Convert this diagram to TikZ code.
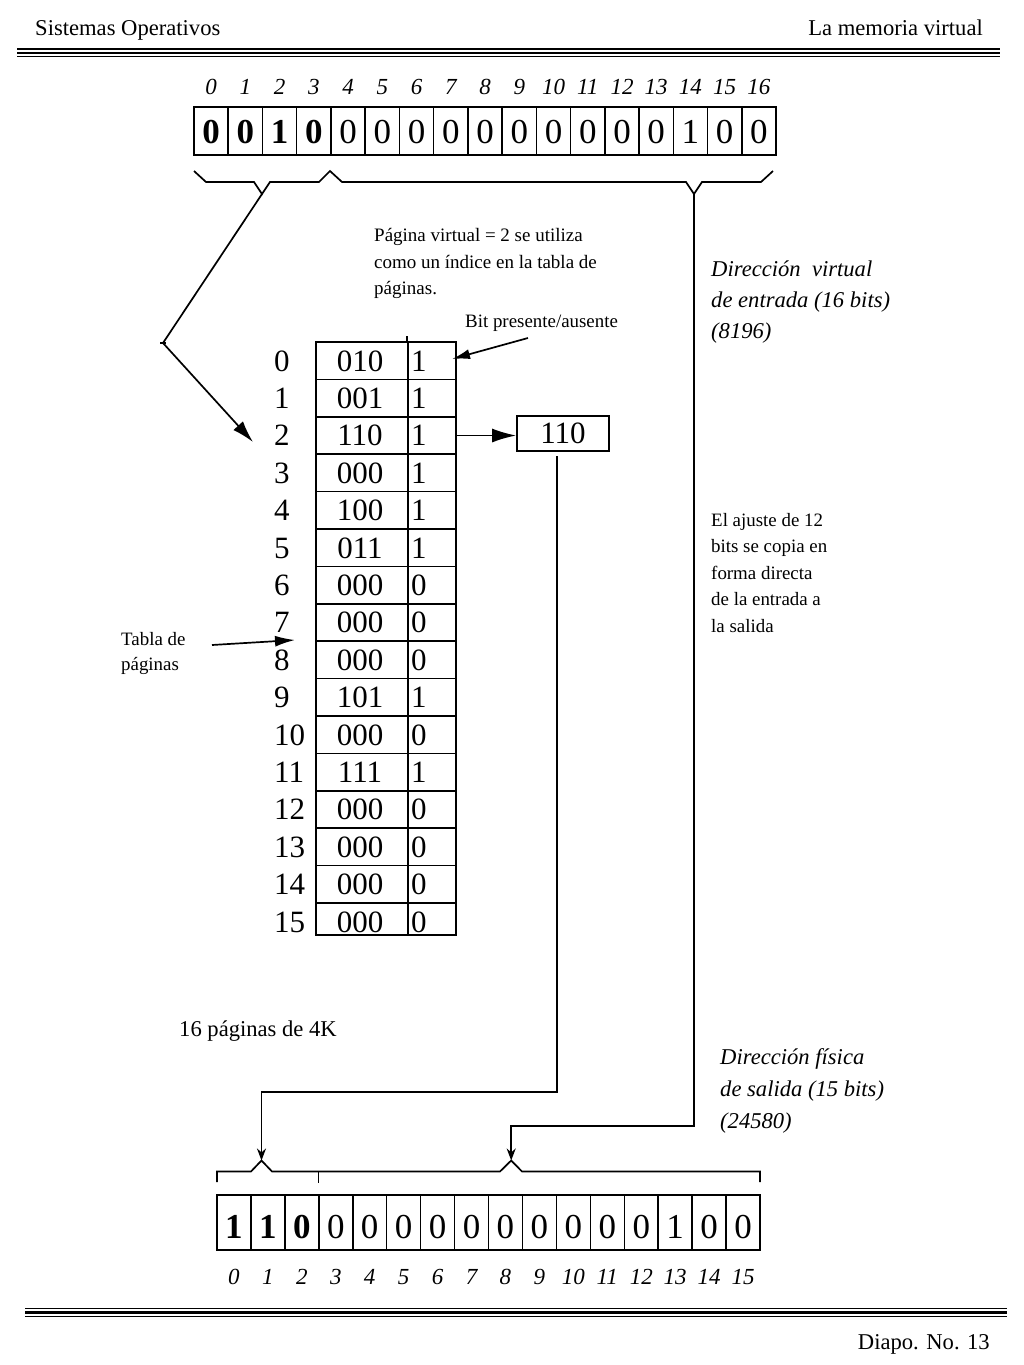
\documentclass[tikz,border=0pt]{standalone}
\usepackage{fontspec}
\setmainfont{Liberation Serif}
\usetikzlibrary{arrows.meta}
\newcommand\myfs[1]{\fontsize{#1}{#1}\selectfont}
\begin{document}
\begin{tikzpicture}[x=1pt,y=-1pt]
\tikzset{
  lw/.style={line width=1.7pt},
  tcell/.style={draw, line width=1.5pt, minimum width=34.24pt, minimum height=48pt, inner sep=0pt},
  bcell/.style={draw, line width=1.5pt, minimum width=33.94pt, minimum height=55pt, inner sep=0pt},
  fcell/.style={draw, line width=1.7pt, minimum width=92pt, inner sep=0pt},
  pcell/.style={draw, line width=1.7pt, minimum width=48pt, inner sep=0pt},
  dig/.style={anchor=base, inner sep=0pt, font=\myfs{35}},
  idx/.style={anchor=base, inner sep=0pt, font=\myfs{23}\itshape},
  tab/.style={inner sep=0pt, font=\myfs{31}},
  note/.style={anchor=base west, inner sep=0pt, font=\myfs{18.9}},
  inote/.style={anchor=base west, inner sep=0pt, font=\myfs{22.6}\itshape},
  bigarrow/.style={lw, -{Latex[length=22pt,width=13pt]}},
  smallarrow/.style={lw, -{Stealth[length=12pt,width=9pt]}},
}
\fill[white] (0,0) rectangle (1024,1365);
\useasboundingbox (0,0) rectangle (1024,1365);

% header
\node[anchor=base west, inner sep=0pt, font=\myfs{22.6}] (hl) at (35,35) {Sistemas Operativos};
\node[anchor=base east, inner sep=0pt, font=\myfs{22.6}] (hr) at (983,35) {La memoria virtual};
\draw[line width=1.3pt] (17,49) -- (1000,49);
\draw[line width=2.8pt] (17,53) -- (1000,53);
\draw[line width=1.3pt] (17,56.8) -- (1000,56.8);

% footer
\draw[line width=1.3pt] (25,1308.5) -- (1007,1308.5);
\draw[line width=2.8pt] (25,1312.5) -- (1007,1312.5);
\draw[line width=1.3pt] (25,1316.3) -- (1007,1316.3);
\node[anchor=base east, inner sep=0pt, font=\myfs{22.6}] (ft) at (990,1349) {Diapo. No. 13};

% top register
\foreach \d [count=\i from 0] in {0,0,1,0,0,0,0,0,0,0,0,0,0,0,1,0,0} {
  \node[tcell] (t\i) at ({194+34.24*(\i+0.5)},131) {};
  \node[dig] (td\i) at ({194+34.24*(\i+0.5)},143) {\ifnum\i<4 \textbf{\d}\else\d\fi};
  \node[idx] (tl\i) at ({194+34.24*(\i+0.5)},94) {\i};
}

% top braces
\coordinate (b1tip) at (262,194);
\coordinate (b2tip) at (694,194);
\draw[lw] (194,171) -- (206,182) -- (254,182) -- (b1tip) -- (270,182) -- (319,182)
  -- (330,171) -- (342,182) -- (686,182) -- (b2tip) -- (702,182) -- (761,182) -- (773,171);

% page table
\foreach \f/\p [count=\k from 0] in {010/1,001/1,110/1,000/1,100/1,011/1,000/0,000/0,000/0,101/1,000/0,111/1,000/0,000/0,000/0,000/0} {
  \pgfmathsetmacro{\h}{ifthenelse(\k==15,32,37.4)}
  \pgfmathsetmacro{\yc}{342+37.4*\k+\h/2}
  \node[fcell, minimum height=\h pt] (f\k) at (362,\yc) {};
  \node[pcell, minimum height=\h pt] (p\k) at (432,\yc) {};
  \node[tab, anchor=base] (ft\k) at (360,{371+37.4*\k}) {\f};
  \node[tab, anchor=base west] (pt\k) at (411,{371+37.4*\k}) {\p};
  \node[tab, anchor=base west] (rl\k) at (274,{371+37.4*\k}) {\k};
}
\draw[line width=1.7pt] (p0.north west) -- ++(0,-5);

% texts
\node[anchor=base west, inner sep=0pt, font=\myfs{19}] (pv1) at (374,241.5) {Página virtual = 2 se utiliza};
\node[anchor=base west, inner sep=0pt, font=\myfs{19}] (pv2) at (374,268) {como un índice en la tabla de};
\node[anchor=base west, inner sep=0pt, font=\myfs{19}] (pv3) at (374,294.5) {páginas.};
\node[note] (bp) at (465,327) {Bit presente/ausente};

\node[inote] (dv1) at (711,276) {Dirección\ \ virtual};
\node[inote] (dv2) at (711,307) {de entrada (16 bits)};
\node[inote] (dv3) at (711,338) {(8196)};

\node[note] (aj1) at (711,526) {El ajuste de 12};
\node[note] (aj2) at (711,552.5) {bits se copia en};
\node[note] (aj3) at (711,579) {forma directa};
\node[note] (aj4) at (711,605.5) {de la entrada a};
\node[note] (aj5) at (711,632) {la salida};

\node[note] (tp1) at (121,645) {Tabla de};
\node[note] (tp2) at (121,670) {páginas};

\node[anchor=base west, inner sep=0pt, font=\myfs{22.6}] (sp) at (179,1036) {16 páginas de 4K};

\node[inote] (df1) at (720,1064) {Dirección física};
\node[inote] (df2) at (720,1096) {de salida (15 bits)};
\node[inote] (df3) at (720,1128) {(24580)};

% frame box
\node[draw, lw, minimum width=92pt, minimum height=35pt, inner sep=0pt, font=\myfs{31}] (box) at (563,433.5) {110};

% connectors
\coordinate (bend) at (163,343);
\coordinate (r2a) at (253,442);
\draw[bigarrow] (b1tip) -- (bend) -- (r2a);
\draw[lw] (160,343) -- (166,343);

\draw[lw, -{Latex[length=24pt,width=14pt]}] (p2.east) -- (p2.east -| box.west);

\coordinate (bps) at (528,338);
\coordinate (bpe) at (452,359);
\draw[lw, -{Latex[length=18pt,width=10pt]}] (bps) -- (bpe);

\coordinate (tps) at (212,645);
\coordinate (tpe) at (295,640);
\draw[lw, -{Latex[length=20pt,width=11pt]}] (tps) -- (tpe);

% bottom register
\foreach \d [count=\i from 0] in {1,1,0,0,0,0,0,0,0,0,0,0,0,1,0,0} {
  \node[bcell] (o\i) at ({217+33.94*(\i+0.5)},1222.5) {};
  \node[dig] (od\i) at ({217+33.94*(\i+0.5)},1238) {\ifnum\i<3 \textbf{\d}\else\d\fi};
  \node[idx] (ol\i) at ({217+33.94*(\i+0.5)},1284) {\i};
}

% bottom brace
\coordinate (ob1tip) at (261.5,1160.5);
\coordinate (ob2tip) at (511.2,1160.5);
\draw[lw] (217,1182) -- (217,1171.5) -- (251,1171.5) -- (ob1tip) -- (272,1171.5)
  -- (500,1171.5) -- (ob2tip) -- (522,1171.5) -- (760,1171.5) -- (760,1182);
\draw[lw] (318.4,1171.5) -- (318.4,1183);

% routes to output
\coordinate (bx) at (557,456);
\coordinate (k1) at (557,1092);
\draw[smallarrow] (bx) -- (k1) -| (ob1tip);
\coordinate (k2) at (694,1126);
\draw[smallarrow] (b2tip) -- (k2) -| (ob2tip);
\end{tikzpicture}
\end{document}
